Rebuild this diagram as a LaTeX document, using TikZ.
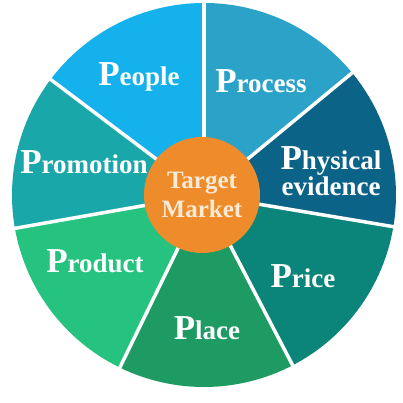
\documentclass[tikz,border=0pt]{standalone}
\usepackage{fontspec}
\setmainfont{Liberation Serif}
\newcommand\capP{{\fontsize{35}{35}\selectfont P}}
\definecolor{cPeople}{HTML}{14B1EC}
\definecolor{cProcess}{HTML}{2BA2C8}
\definecolor{cPhys}{HTML}{0B6487}
\definecolor{cPrice}{HTML}{0B8579}
\definecolor{cPlace}{HTML}{1E9A63}
\definecolor{cProduct}{HTML}{25C37F}
\definecolor{cPromo}{HTML}{1AA7A9}
\definecolor{cOrange}{HTML}{EE8B2B}
\definecolor{cCream}{HTML}{FBEBD6}
\begin{document}
\begin{tikzpicture}[x=1pt,y=1pt,
  lbl/.style={text=white, font=\fontsize{27}{27}\selectfont\bfseries, align=center, inner sep=0pt},
  gap/.style={white, line width=3.5pt}]
\useasboundingbox (0,0) rectangle (403,403);
\fill[white] (0,0) rectangle (403,403);
\coordinate (c) at (204,208);
\def\R{192}
\foreach \a/\b/\col in {90/39.5/cProcess, 39.5/-9.5/cPhys, -9.5/-62.5/cPrice, -62.5/-116/cPlace, -116/-170/cProduct, -170/-217/cPromo, -217/-270/cPeople}{
  \fill[\col] (c) -- ++(\a:\R) arc[start angle=\a, end angle=\b, radius=\R] -- cycle;
}
\foreach \a in {90,39.5,-9.5,-62.5,-116,-170,-217}{
  \draw[gap] (c) -- ++(\a:\R+2);
}
\node[circle, fill=cOrange, minimum size=116pt, inner sep=0pt] (tm) at (202,208) {};
\node[text=cCream, font=\fontsize{25}{29}\selectfont\bfseries, align=center] (tmt) at (tm) {Target\\Market};
\node[lbl] (people) at (139,326) {\capP eople};
\node[lbl] (process) at (261,322) {\capP rocess};
\node[lbl, font=\fontsize{27}{26}\selectfont\bfseries] (phys) at (331,232) {\capP hysical\\evidence};
\node[lbl] (price) at (303,127) {\capP rice};
\node[lbl] (place) at (207,75) {\capP lace};
\node[lbl] (product) at (95,142) {\capP roduct};
\node[lbl] (promo) at (84,241) {\capP romotion};
\end{tikzpicture}
\end{document}
